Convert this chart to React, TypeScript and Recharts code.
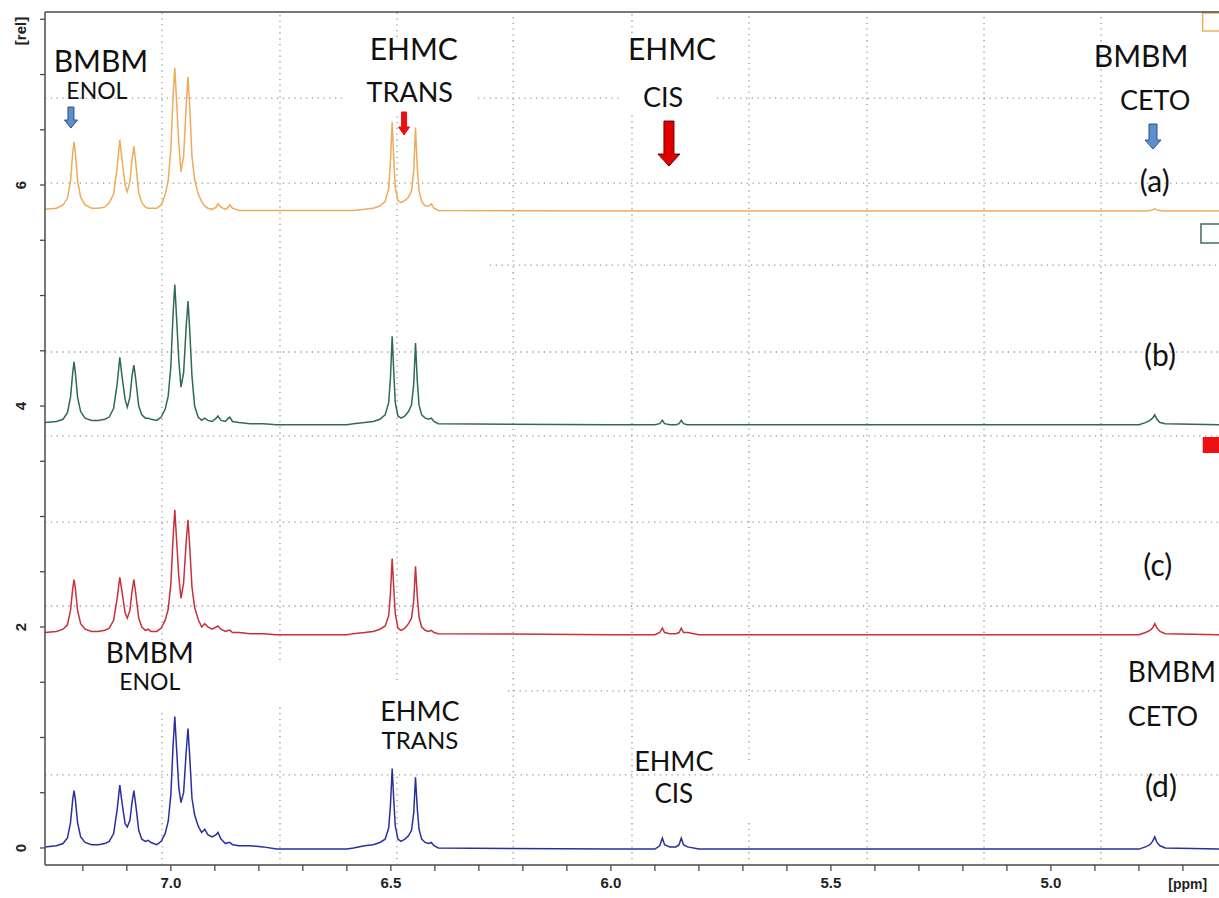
import React from 'react';
import { LineChart, Line, XAxis, YAxis, ReferenceLine, ReferenceDot, ReferenceArea } from 'recharts';

// chemical shift grid (ppm), shared by the four stacked spectra
const ppm = [
  7.286, 7.26, 7.245, 7.235, 7.228, 7.223, 7.22, 7.217, 7.212, 7.205,
  7.195, 7.18, 7.165, 7.15, 7.14, 7.13, 7.122, 7.116, 7.111, 7.104,
  7.099, 7.093, 7.088, 7.084, 7.08, 7.073, 7.066, 7.058, 7.052, 7.045,
  7.032, 7.022, 7.013, 7.006, 7.0, 6.995, 6.991, 6.987, 6.982, 6.977,
  6.971, 6.965, 6.961, 6.957, 6.952, 6.946, 6.938, 6.93, 6.923, 6.916,
  6.906, 6.897, 6.893, 6.886, 6.876, 6.869, 6.866, 6.86, 6.845, 6.82,
  6.79, 6.76, 6.6, 6.585, 6.56, 6.54, 6.525, 6.513, 6.505, 6.501,
  6.497, 6.494, 6.49, 6.484, 6.477, 6.468, 6.46, 6.453, 6.448, 6.444,
  6.44, 6.436, 6.43, 6.422, 6.414, 6.408, 6.402, 6.392, 6.0, 5.9,
  5.889, 5.883, 5.878, 5.866, 5.852, 5.845, 5.84, 5.835, 5.826, 5.8,
  4.8, 4.785, 4.775, 4.769, 4.764, 4.759, 4.752, 4.74, 4.618,
];

// spectrum (a) - orange
const spectrumA = [
  5.78, 5.79, 5.82, 5.88, 6.04, 6.29, 6.39, 6.29, 6.04, 5.89,
  5.82, 5.79, 5.79, 5.8, 5.84, 5.92, 6.16, 6.41, 6.23, 6.0,
  5.94, 6.03, 6.24, 6.35, 6.21, 5.93, 5.84, 5.8, 5.79, 5.79,
  5.79, 5.82, 5.91, 6.04, 6.33, 6.8, 7.06, 6.76, 6.38, 6.12,
  6.26, 6.73, 6.98, 6.69, 6.26, 6.05, 5.92, 5.85, 5.81, 5.79,
  5.78, 5.8, 5.83, 5.8, 5.78, 5.8, 5.82, 5.79, 5.77, 5.77,
  5.77, 5.77, 5.77, 5.77, 5.78, 5.79, 5.81, 5.85, 5.97, 6.21,
  6.57, 6.29, 5.98, 5.86, 5.84, 5.86, 5.89, 5.95, 6.13, 6.52,
  6.16, 5.95, 5.85, 5.81, 5.81, 5.83, 5.79, 5.77, 5.765, 5.765,
  5.765, 5.765, 5.765, 5.765, 5.765, 5.765, 5.765, 5.765, 5.765, 5.765,
  5.765, 5.765, 5.77, 5.775, 5.785, 5.775, 5.77, 5.765, 5.765,
];

// spectrum (b) - green
const spectrumB = [
  3.85, 3.86, 3.88, 3.94, 4.08, 4.3, 4.4, 4.3, 4.08, 3.95,
  3.89, 3.87, 3.87, 3.88, 3.9, 3.98, 4.2, 4.44, 4.27, 4.06,
  3.99, 4.08, 4.28, 4.37, 4.25, 4.0, 3.92, 3.89, 3.89, 3.88,
  3.87, 3.9, 3.97, 4.09, 4.36, 4.83, 5.1, 4.8, 4.42, 4.17,
  4.3, 4.73, 4.95, 4.68, 4.27, 4.0, 3.9, 3.87, 3.89, 3.87,
  3.86, 3.89, 3.91, 3.87, 3.86, 3.89, 3.9, 3.86, 3.85, 3.84,
  3.84, 3.83, 3.83, 3.84, 3.85, 3.86, 3.88, 3.92, 4.03, 4.25,
  4.63, 4.36, 4.03, 3.91, 3.89, 3.91, 3.95, 4.01, 4.2, 4.57,
  4.23, 4.01, 3.92, 3.89, 3.88, 3.89, 3.86, 3.84, 3.83, 3.83,
  3.84, 3.87, 3.84, 3.83, 3.83, 3.84, 3.87, 3.84, 3.83, 3.83,
  3.83, 3.85, 3.87, 3.89, 3.92, 3.88, 3.85, 3.84, 3.83,
];

// spectrum (c) - red
const spectrumC = [
  1.95, 1.96, 1.98, 2.02, 2.15, 2.35, 2.43, 2.35, 2.15, 2.03,
  1.98, 1.96, 1.96, 1.97, 1.99, 2.06, 2.26, 2.45, 2.32, 2.13,
  2.08, 2.15, 2.33, 2.43, 2.31, 2.08, 2.0, 1.97, 1.98, 1.96,
  1.96, 1.99, 2.06, 2.16, 2.39, 2.8, 3.06, 2.79, 2.46, 2.26,
  2.4, 2.78, 2.97, 2.72, 2.36, 2.18, 2.07, 2.0, 2.03, 2.0,
  1.98, 2.0, 2.01, 1.98, 1.96, 1.97, 1.97, 1.95, 1.95, 1.94,
  1.94, 1.93, 1.93, 1.94, 1.95, 1.96, 1.98, 2.01, 2.1, 2.3,
  2.62, 2.39, 2.12, 1.99, 1.97, 1.99, 2.03, 2.08, 2.24, 2.55,
  2.28, 2.09, 2.0, 1.97, 1.96, 1.97, 1.95, 1.94, 1.93, 1.93,
  1.95, 1.99, 1.95, 1.94, 1.94, 1.95, 1.99, 1.95, 1.95, 1.93,
  1.93, 1.95, 1.97, 1.99, 2.03, 1.99, 1.96, 1.94, 1.93,
];

// spectrum (d) - blue
const spectrumD = [
  0.01, 0.02, 0.04, 0.09, 0.23, 0.44, 0.52, 0.44, 0.23, 0.1,
  0.05, 0.03, 0.03, 0.04, 0.06, 0.13, 0.35, 0.57, 0.41, 0.22,
  0.19, 0.25, 0.42, 0.52, 0.4, 0.16, 0.08, 0.06, 0.07, 0.05,
  0.03, 0.06, 0.13, 0.24, 0.48, 0.92, 1.19, 0.9, 0.55, 0.41,
  0.5, 0.88, 1.08, 0.82, 0.45, 0.3, 0.2, 0.14, 0.17, 0.12,
  0.1, 0.12, 0.14, 0.08, 0.04, 0.05, 0.05, 0.03, 0.02, 0.02,
  0.01, -0.01, -0.01, 0.0, 0.02, 0.03, 0.05, 0.08, 0.18, 0.38,
  0.72, 0.48, 0.2, 0.08, 0.06, 0.08, 0.11, 0.16, 0.32, 0.64,
  0.36, 0.17, 0.08, 0.05, 0.04, 0.05, 0.02, 0.0, -0.01, -0.01,
  0.02, 0.09, 0.03, 0.01, 0.01, 0.03, 0.09, 0.03, 0.01, -0.01,
  -0.01, 0.01, 0.03, 0.06, 0.1, 0.05, 0.02, 0.0, -0.01,
];

const xTicks = [7.2, 7.1, 7.0, 6.9, 6.8, 6.7, 6.6, 6.5, 6.4, 6.3, 6.2, 6.1, 6.0, 5.9, 5.8, 5.7, 5.6, 5.5, 5.4, 5.3, 5.2, 5.1, 5.0, 4.9, 4.8, 4.7];
const xTickLabels = ['7.0', '6.5', '6.0', '5.5', '5.0'];
const yTicks = [0, 0.5, 1, 1.5, 2, 2.5, 3, 3.5, 4, 4.5, 5, 5.5, 6, 6.5, 7, 7.5];
const yTickLabels = ['0', '2', '4', '6'];

const X_DOMAIN: [number, number] = [4.618, 7.286];
const Y_DOMAIN: [number, number] = [-0.154, 7.566];

// dotted grid: vertical [ppm, yFrom, yTo], horizontal [y, ppmFrom, ppmTo]
const vGrid = [
  [7.02, -0.154, 1.231], [7.02, 1.882, 7.566],
  [6.752, -0.154, 1.276], [6.752, 1.701, 7.566],
  [6.486, -0.154, 0.679], [6.486, 1.52, 6.661], [6.486, 7.339, 7.566],
  [6.222, -0.154, 7.566],
  [5.952, -0.154, 6.633], [5.952, 7.376, 7.566],
  [5.686, -0.154, 0.253], [5.686, 0.796, 7.566],
  [5.418, -0.154, 7.566],
  [5.152, -0.154, 7.566],
  [4.886, -0.154, 7.566],
];
const hGrid = [
  [6.787, 7.286, 6.609], [6.787, 6.302, 5.975], [6.787, 5.759, 4.895],
  [6.018, 7.286, 4.618],
  [5.276, 6.275, 4.618],
  [4.489, 7.286, 4.618],
  [3.729, 7.286, 4.618],
  [2.95, 7.286, 4.618],
  [2.19, 7.286, 4.618],
  [1.421, 6.234, 4.88],
  [0.661, 7.286, 4.618],
];

// annotation blocks: first line anchored at (x, y); further lines offset in px
const labels = [
  { x: 7.159, y: 7.023, lines: [{ t: 'BMBM', size: 30, dx: 0, dy: 0 }, { t: 'ENOL', size: 23, dx: -4, dy: 27 }] },
  { x: 6.448, y: 7.131, lines: [{ t: 'EHMC', size: 30, dx: 0, dy: 0 }, { t: 'TRANS', size: 27, dx: -4, dy: 42 }] },
  { x: 5.861, y: 7.131, lines: [{ t: 'EHMC', size: 30, dx: 0, dy: 0 }, { t: 'CIS', size: 27, dx: -9, dy: 47 }] },
  { x: 4.795, y: 7.068, lines: [{ t: 'BMBM', size: 30, dx: 0, dy: 0 }, { t: 'CETO', size: 27, dx: 14, dy: 43 }] },
  { x: 4.764, y: 5.937, lines: [{ t: '(a)', size: 30, dx: 0, dy: 0 }] },
  { x: 4.752, y: 4.362, lines: [{ t: '(b)', size: 30, dx: 0, dy: 0 }] },
  { x: 4.757, y: 2.462, lines: [{ t: '(c)', size: 30, dx: 0, dy: 0 }] },
  { x: 4.75, y: 0.462, lines: [{ t: '(d)', size: 30, dx: 0, dy: 0 }] },
  { x: 7.048, y: 1.674, lines: [{ t: 'BMBM', size: 28, dx: 0, dy: 0 }, { t: 'ENOL', size: 23, dx: 0, dy: 27 }] },
  { x: 6.434, y: 1.149, lines: [{ t: 'EHMC', size: 27, dx: 0, dy: 0 }, { t: 'TRANS', size: 24, dx: 0, dy: 28 }] },
  { x: 5.857, y: 0.697, lines: [{ t: 'EHMC', size: 27, dx: 0, dy: 0 }, { t: 'CIS', size: 26, dx: 0, dy: 32 }] },
  { x: 4.725, y: 1.502, lines: [{ t: 'BMBM', size: 28, dx: 0, dy: 0 }, { t: 'CETO', size: 27, dx: -9, dy: 44 }] },
];

const arrows = [
  { x: 7.227, y: 6.706, len: 21, shaft: 6, head: 13, headLen: 8, fill: '#5b8fd0', stroke: '#2f4f7f' },
  { x: 6.47, y: 6.661, len: 23, shaft: 5, head: 11, headLen: 8, fill: '#e81010', stroke: '#e81010' },
  { x: 5.868, y: 6.579, len: 45, shaft: 10, head: 22, headLen: 12, fill: '#e00000', stroke: '#6a0000' },
  { x: 4.768, y: 6.552, len: 25, shaft: 8, head: 16, headLen: 9, fill: '#5b8fd0', stroke: '#2f4f7f' },
];

const data = ppm.map((p, i) => ({
  ppm: p,
  a: spectrumA[i],
  b: spectrumB[i],
  c: spectrumC[i],
  d: spectrumD[i],
}));

const AXIS = '#4a4a4a';
const GRID = '#9a9a9a';
const LABEL_FONT = "Lato, 'Open Sans', sans-serif";

const XTick = (props: any) => {
  const { x, y, payload } = props;
  const label = Number(payload.value).toFixed(1);
  if (!xTickLabels.includes(label)) return <g />;
  return (
    <text x={x} y={y + 4} dy="0.71em" textAnchor="middle" fontFamily="'Liberation Sans', Arial, sans-serif" fontWeight="bold" fontSize={15} fill="#222">
      {label}
    </text>
  );
};

const YTick = (props: any) => {
  const { x, y, payload } = props;
  const label = String(payload.value);
  if (!yTickLabels.includes(label)) return <g />;
  return (
    <text x={0} y={0} transform={`translate(${x - 18},${y}) rotate(-90)`} textAnchor="middle" dominantBaseline="central" fontFamily="'Liberation Sans', Arial, sans-serif" fontWeight="bold" fontSize={15} fill="#222">
      {label}
    </text>
  );
};

const textShape = (block: any) => (p: any) => (
  <g>
    {block.lines.map((l: any, i: number) => (
      <text key={i} x={p.cx + l.dx} y={p.cy + l.dy} textAnchor="middle" fontFamily={LABEL_FONT} fontSize={l.size} fill="#111">
        {l.t}
      </text>
    ))}
  </g>
);

const arrowShape = (a: any) => (p: any) => {
  const { cx, cy } = p;
  const s = a.shaft / 2;
  const h = a.head / 2;
  const yb = cy + a.len - a.headLen;
  const yt = cy + a.len;
  const d = `M${cx - s},${cy} L${cx + s},${cy} L${cx + s},${yb} L${cx + h},${yb} L${cx},${yt} L${cx - h},${yb} L${cx - s},${yb} Z`;
  return <path d={d} fill={a.fill} stroke={a.stroke} strokeWidth={1} />;
};

const axisText = (text: string, rotate: boolean, size: number) => (p: any) => (
  <text x={0} y={0} transform={`translate(${p.cx},${p.cy})${rotate ? ' rotate(-90)' : ''}`} textAnchor="middle" dominantBaseline="central" fontFamily="'Liberation Sans', Arial, sans-serif" fontWeight="bold" fontSize={size} fill="#222">
    {text}
  </text>
);

export default function App() {
  return (
    <div style={{ position: 'absolute', left: 0, top: 0, background: '#fff' }}>
      <LineChart width={1219} height={898} data={data} margin={{ top: 12, right: 0, bottom: 0, left: 0 }}>
        <XAxis
          dataKey="ppm"
          type="number"
          domain={X_DOMAIN}
          reversed
          allowDataOverflow
          ticks={xTicks}
          interval={0}
          height={33}
          tickSize={6}
          stroke={AXIS}
          axisLine={{ stroke: AXIS, strokeWidth: 1.5 }}
          tickLine={{ stroke: AXIS, strokeWidth: 1.3 }}
          tick={<XTick />}
        />
        <YAxis
          type="number"
          domain={Y_DOMAIN}
          allowDataOverflow
          ticks={yTicks}
          interval={0}
          width={45}
          tickSize={5}
          stroke={AXIS}
          axisLine={{ stroke: AXIS, strokeWidth: 1.5 }}
          tickLine={{ stroke: AXIS, strokeWidth: 1.3 }}
          tick={<YTick />}
        />
        {vGrid.map((g, i) => (
          <ReferenceLine key={`v${i}`} segment={[{ x: g[0], y: g[1] }, { x: g[0], y: g[2] }]} stroke={GRID} strokeWidth={1.3} strokeDasharray="1.3 4.5" ifOverflow="visible" />
        ))}
        {hGrid.map((g, i) => (
          <ReferenceLine key={`h${i}`} segment={[{ x: g[1], y: g[0] }, { x: g[2], y: g[0] }]} stroke={GRID} strokeWidth={1.3} strokeDasharray="1.3 4.5" ifOverflow="visible" />
        ))}
        <ReferenceLine y={Y_DOMAIN[1]} stroke={AXIS} strokeWidth={1.5} ifOverflow="visible" />
        <ReferenceArea x1={4.655} x2={4.6} y1={7.394} y2={7.557} fill="#fff" fillOpacity={1} stroke="#f0b060" strokeWidth={1.5} ifOverflow="visible" />
        <ReferenceArea x1={4.659} x2={4.6} y1={5.475} y2={5.647} fill="#fff" fillOpacity={1} stroke="#3f6f5f" strokeWidth={1.5} ifOverflow="visible" />
        <ReferenceArea x1={4.655} x2={4.6} y1={3.575} y2={3.72} fill="#ee1111" fillOpacity={1} stroke="none" ifOverflow="visible" />
        <Line type="linear" dataKey="a" stroke="#efaa5a" strokeWidth={1.5} dot={false} isAnimationActive={false} />
        <Line type="linear" dataKey="b" stroke="#2f6b50" strokeWidth={1.5} dot={false} isAnimationActive={false} />
        <Line type="linear" dataKey="c" stroke="#c8303a" strokeWidth={1.5} dot={false} isAnimationActive={false} />
        <Line type="linear" dataKey="d" stroke="#2a2fa0" strokeWidth={1.5} dot={false} isAnimationActive={false} />
        {labels.map((l, i) => (
          <ReferenceDot key={`l${i}`} x={l.x} y={l.y} r={0} ifOverflow="visible" shape={textShape(l)} />
        ))}
        {arrows.map((a, i) => (
          <ReferenceDot key={`a${i}`} x={a.x} y={a.y} r={0} ifOverflow="visible" shape={arrowShape(a)} />
        ))}
        <ReferenceDot x={7.341} y={7.394} r={0} ifOverflow="visible" shape={axisText('[rel]', true, 15)} />
        <ReferenceDot x={4.689} y={-0.326} r={0} ifOverflow="visible" shape={axisText('[ppm]', false, 14)} />
      </LineChart>
    </div>
  );
}
